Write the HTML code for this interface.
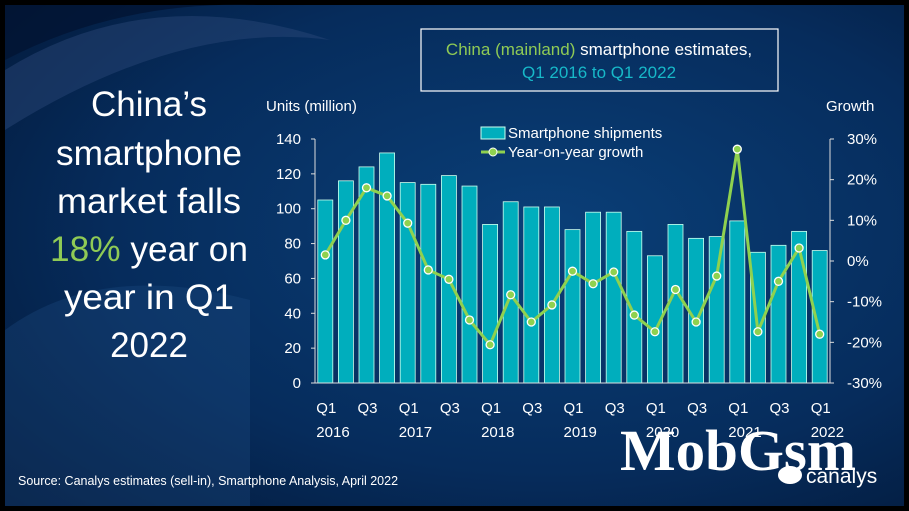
<!DOCTYPE html>
<html><head><meta charset="utf-8"><style>
html,body{margin:0;padding:0;background:#000;}
#wrap{position:relative;width:909px;height:511px;overflow:hidden;background:#000;font-family:"Liberation Sans",sans-serif;}
svg{position:absolute;left:0;top:0;}
</style></head><body>
<div id="wrap">
<svg id="chart" width="909" height="511">
<defs>
<radialGradient id="bg" cx="0.6" cy="0.45" r="0.8">
<stop offset="0" stop-color="#0a3f78"/><stop offset="0.6" stop-color="#062c5c"/><stop offset="1" stop-color="#031838"/>
</radialGradient>
</defs>
<rect x="5" y="5" width="899" height="501" fill="url(#bg)"/>
<path d="M5,60 Q120,0 260,5 L5,5 Z" fill="#021230" opacity="0.7"/>
<path d="M5,70 Q150,-20 330,40 Q180,20 5,130 Z" fill="#2c4a7a" opacity="0.45"/>
<path d="M5,330 Q100,260 250,300 L250,506 L5,506 Z" fill="#1e4a80" opacity="0.35"/>
<rect x="421" y="29" width="357" height="62" fill="none" stroke="#fff" stroke-width="1.2"/>
<text x="599" y="55" text-anchor="middle" font-size="17" fill="#fff"><tspan fill="#8fca55">China (mainland)</tspan> smartphone estimates,</text>
<text x="599" y="78" text-anchor="middle" font-size="17" fill="#17b8c8">Q1 2016 to Q1 2022</text>
<g font-size="35" fill="#fff" text-anchor="middle">
<text x="149" y="116">China’s</text>
<text x="149" y="165" textLength="186" lengthAdjust="spacingAndGlyphs">smartphone</text>
<text x="149" y="213" textLength="184" lengthAdjust="spacingAndGlyphs">market falls</text>
<text x="149" y="261" textLength="198" lengthAdjust="spacingAndGlyphs"><tspan fill="#8fca55">18%</tspan> year on</text>
<text x="149" y="309" textLength="170" lengthAdjust="spacingAndGlyphs">year in Q1</text>
<text x="149" y="357">2022</text>
</g>
<text x="266" y="111" font-size="15" fill="#fff">Units (million)</text>
<text x="826" y="111" font-size="15" fill="#fff">Growth</text>
<text x="18" y="485" font-size="12.5" fill="#fff">Source:  Canalys estimates (sell-in), Smartphone Analysis, April 2022</text>
<text x="620" y="470" font-size="58" font-family="Liberation Serif,serif" font-weight="bold" fill="#fff" textLength="236" lengthAdjust="spacingAndGlyphs">MobGsm</text>
<ellipse cx="790" cy="475" rx="12" ry="9" fill="#fff"/>
<text x="806" y="483" font-size="21" fill="#fff">canalys</text>
<g id="plot"></g>
</svg>
</div>
<script>
const categories=["Q1 2016","Q2 2016","Q3 2016","Q4 2016","Q1 2017","Q2 2017","Q3 2017","Q4 2017","Q1 2018","Q2 2018","Q3 2018","Q4 2018","Q1 2019","Q2 2019","Q3 2019","Q4 2019","Q1 2020","Q2 2020","Q3 2020","Q4 2020","Q1 2021","Q2 2021","Q3 2021","Q4 2021","Q1 2022"];
const shipments=[105,116,124,132,115,114,119,113,91,104,101,101,88,98,98,87,73,91,83,84,93,75,79,87,76];
const growth=[1.5,10,18,16,9.3,-2.2,-4.5,-14.5,-20.6,-8.3,-15,-10.8,-2.5,-5.6,-2.7,-13.3,-17.4,-7,-15,-3.7,27.5,-17.4,-5,3.2,-18];
const leftTicks=[0,20,40,60,80,100,120,140];
const rightTicks=[-30,-20,-10,0,10,20,30];
const xLabels=[["Q1","2016"],["Q3",""],["Q1","2017"],["Q3",""],["Q1","2018"],["Q3",""],["Q1","2019"],["Q3",""],["Q1","2020"],["Q3",""],["Q1","2021"],["Q3",""],["Q1","2022"]];

const NS="http://www.w3.org/2000/svg";
const g=document.getElementById('plot');
const X0=315,X1=830,YB=383,YT=139;
const step=(X1-X0)/categories.length;
const xc=i=>X0+step*(i+0.5);
const yL=v=>YB-(v/140)*(YB-YT);
const yR=v=>YB-((v+30)/60)*(YB-YT);
function mk(tag,attrs){const e=document.createElementNS(NS,tag);for(const k in attrs)e.setAttribute(k,attrs[k]);g.appendChild(e);return e;}

shipments.forEach((v,i)=>{
  const r=mk('rect',{x:xc(i)-7.5,y:yL(v),width:15,height:YB-yL(v),fill:'#00aebd',stroke:'#cfe',"stroke-width":0.8});
  
  
});
let ax=mk('line',{x1:X0,y1:YT,x2:X0,y2:YB,stroke:'#ddd'});


ax=mk('line',{x1:X1,y1:YT,x2:X1,y2:YB,stroke:'#ddd'});


ax=mk('line',{x1:X0-4,y1:YB,x2:X1,y2:YB,stroke:'#ddd'});


leftTicks.forEach(t=>{
  const y=yL(t);mk('line',{x1:X0-4,y1:y,x2:X0,y2:y,stroke:'#ddd'});
  const tx=mk('text',{x:X0-14,y:y+5,'text-anchor':'end','font-size':15,fill:'#fff'});tx.textContent=t;
  
  
});
rightTicks.forEach(t=>{
  const y=yR(t);mk('line',{x1:X1,y1:y,x2:X1+4,y2:y,stroke:'#ddd'});
  const tx=mk('text',{x:X1+17,y:y+5,'font-size':15,fill:'#fff'});tx.textContent=t+'%';
  
  
});
xLabels.forEach((l,j)=>{
  const x=xc(j*2)-9;
  const a=mk('text',{x:x,y:413,'font-size':15,fill:'#fff'});a.textContent=l[0];
  
  
  if(l[1]){const b=mk('text',{x:x,y:437,'font-size':15,fill:'#fff'});b.textContent=l[1];
  
  }
});
const pts=growth.map((v,i)=>xc(i)+','+yR(v)).join(' ');
const pl=mk('polyline',{points:pts,fill:'none',stroke:'#8fd14f','stroke-width':3,'stroke-linejoin':'round'});


growth.forEach((v,i)=>{
  const c=mk('circle',{cx:xc(i),cy:yR(v),r:4,fill:'#8fd14f',stroke:'#fff','stroke-width':1.3});
  
  
});
const lr=mk('rect',{x:481,y:127,width:24,height:12,fill:'#00aebd',stroke:'#cfe'});


const lt1=mk('text',{x:508,y:138,'font-size':15,fill:'#fff'});lt1.textContent='Smartphone shipments';


const ll=mk('line',{x1:481,y1:152,x2:505,y2:152,stroke:'#8fd14f','stroke-width':3});


const lc=mk('circle',{cx:493,cy:152,r:4,fill:'#8fd14f',stroke:'#fff'});


const lt2=mk('text',{x:508,y:157,'font-size':15,fill:'#fff'});lt2.textContent='Year-on-year growth';


</script>
</body></html>
